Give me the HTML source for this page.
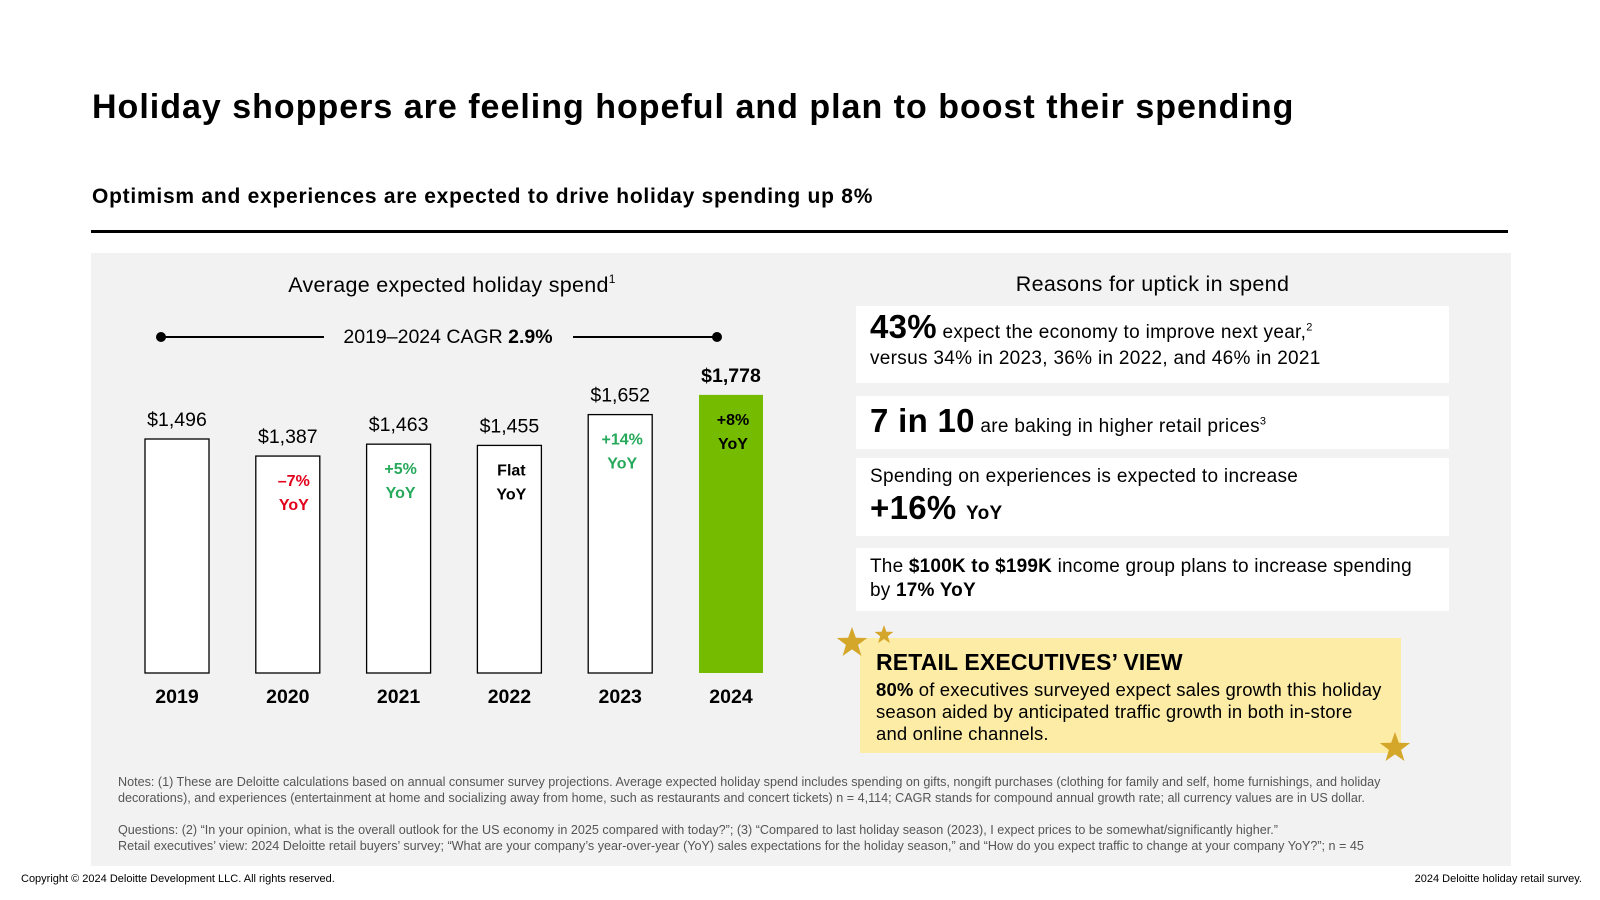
<!DOCTYPE html>
<html><head><meta charset="utf-8">
<style>
*{margin:0;padding:0;box-sizing:border-box}
body{width:1600px;height:900px;background:#fff;font-family:"Liberation Sans",sans-serif;color:#000;position:relative;overflow:hidden}
.abs{position:absolute}
.box{position:absolute;background:#fff;left:856px;width:593px;padding-left:14px;letter-spacing:0.3px}
.notes{font-size:12.6px;color:#555;line-height:16px}
</style></head><body>
<div class="abs" style="left:92px;top:88px;font-size:34px;font-weight:bold;letter-spacing:1px">Holiday shoppers are feeling hopeful and plan to boost their spending</div>
<div class="abs" style="left:92px;top:185px;font-size:21px;font-weight:bold;letter-spacing:0.75px">Optimism and experiences are expected to drive holiday spending up 8%</div>
<div class="abs" style="left:91px;top:230px;width:1417px;height:3px;background:#000"></div>
<div class="abs" style="left:91px;top:253px;width:1420px;height:613px;background:#f2f2f2"></div>

<svg class="abs" style="left:0;top:0" width="840" height="720" id="chart"></svg>

<div class="abs" style="left:856px;top:272px;width:593px;text-align:center;font-size:21.5px;letter-spacing:0.3px">Reasons for uptick in spend</div>
<div class="box" style="top:306px;height:77px;padding-top:8px">
<div style="font-size:19px;line-height:26px"><b style="font-size:33px">43%</b> expect the economy to improve next year,<sup style="font-size:11px">2</sup></div>
<div style="font-size:19px;line-height:26px">versus 34% in 2023, 36% in 2022, and 46% in 2021</div></div>
<div class="box" style="top:396px;height:53px;padding-top:6px;font-size:19px"><b style="font-size:33px">7 in 10</b> are baking in higher retail prices<sup style="font-size:11px">3</sup></div>
<div class="box" style="top:458px;height:78px;padding-top:7px">
<div style="font-size:19px;line-height:24px">Spending on experiences is expected to increase</div>
<div style="font-weight:bold;font-size:33px;line-height:38px">+16% <span style="font-size:19px">YoY</span></div></div>
<div class="box" style="top:548px;height:63px;padding-top:7px;font-size:19px;line-height:24px;padding-right:4px;letter-spacing:0.2px">The <b>$100K to $199K</b> income group plans to increase spending<br>by <b>17% YoY</b></div>

<div class="abs" style="left:860px;top:638px;width:541px;height:115px;background:#fdeca6;padding:10px 0 0 16px;letter-spacing:0.15px">
<div style="font-size:23px;font-weight:bold;line-height:28px">RETAIL EXECUTIVES’ VIEW</div>
<div style="font-size:18.5px;line-height:22px;margin-top:3px;white-space:nowrap"><b>80%</b> of executives surveyed expect sales growth this holiday<br>season aided by anticipated traffic growth in both in-store<br>and online channels.</div></div>
<svg class="abs" style="left:0;top:0" width="1600" height="900">
<g fill="#d4a62a">
<polygon transform="translate(852,643) scale(16)" points="0,-1 0.24,-0.33 0.95,-0.31 0.38,0.12 0.59,0.81 0,0.4 -0.59,0.81 -0.38,0.12 -0.95,-0.31 -0.24,-0.33"/>
<polygon transform="translate(884,635) scale(10)" points="0,-1 0.24,-0.33 0.95,-0.31 0.38,0.12 0.59,0.81 0,0.4 -0.59,0.81 -0.38,0.12 -0.95,-0.31 -0.24,-0.33"/>
<polygon transform="translate(1395,748) scale(16)" points="0,-1 0.24,-0.33 0.95,-0.31 0.38,0.12 0.59,0.81 0,0.4 -0.59,0.81 -0.38,0.12 -0.95,-0.31 -0.24,-0.33"/>
</g></svg>

<div class="abs notes" style="left:118px;top:774px;width:1335px">Notes: (1) These are Deloitte calculations based on annual consumer survey projections. Average expected holiday spend includes spending on gifts, nongift purchases (clothing for family and self, home furnishings, and holiday decorations), and experiences (entertainment at home and socializing away from home, such as restaurants and concert tickets) n = 4,114; CAGR stands for compound annual growth rate; all currency values are in US dollar.</div>
<div class="abs notes" style="left:118px;top:822px;width:1380px">Questions: (2) “In your opinion, what is the overall outlook for the US economy in 2025 compared with today?”; (3) “Compared to last holiday season (2023), I expect prices to be somewhat/significantly higher.”<br>Retail executives’ view: 2024 Deloitte retail buyers’ survey; “What are your company’s year-over-year (YoY) sales expectations for the holiday season,” and “How do you expect traffic to change at your company YoY?”; n = 45</div>
<div class="abs" style="left:21px;top:873px;font-size:11px">Copyright © 2024 Deloitte Development LLC. All rights reserved.</div>
<div class="abs" style="right:18px;top:873px;font-size:11px">2024 Deloitte holiday retail survey.</div>

<script>
const years=["2019","2020","2021","2022","2023","2024"];
const spend=[1496,1387,1463,1455,1652,1778];
const valueLabels=["$1,496","$1,387","$1,463","$1,455","$1,652","$1,778"];
const yoyLabels=["","–7%","+5%","Flat","+14%","+8%"];
const yoyColors=["#000","#e3001b","#26a95a","#000","#26a95a","#000"];
const svg=document.getElementById('chart');
const NS='http://www.w3.org/2000/svg';
const baseY=673, pxPer=234/1496, x0=177, step=110.8, bw=64;
const xPos=i=>x0+i*step;
const yPos=v=>baseY-v*pxPer;
function mk(tag,attrs,txt){const e=document.createElementNS(NS,tag);for(const k in attrs)e.setAttribute(k,attrs[k]);if(txt!==undefined)e.textContent=txt;svg.appendChild(e);return e;}
let t=mk('text',{x:452,y:292,'text-anchor':'middle','font-size':21.5,'letter-spacing':0.3,'font-family':'Liberation Sans, sans-serif'},'');


t.innerHTML='Average expected holiday spend<tspan font-size="12" dy="-9">1</tspan>';
let l1=mk('line',{x1:161,y1:337,x2:324,y2:337,stroke:'#000','stroke-width':2});


let l2=mk('line',{x1:573,y1:337,x2:717,y2:337,stroke:'#000','stroke-width':2});


let d1=mk('circle',{cx:161,cy:337,r:5,fill:'#000'});


let d2=mk('circle',{cx:717,cy:337,r:5,fill:'#000'});


let ct=mk('text',{x:448,y:343,'text-anchor':'middle','font-size':19.5,'font-family':'Liberation Sans, sans-serif'},'');


ct.innerHTML='2019–2024 CAGR <tspan font-weight="bold">2.9%</tspan>';
years.forEach((yr,i)=>{
  const cx=xPos(i), top=yPos(spend[i]), last=i===years.length-1;
  const r=mk('rect',{x:cx-bw/2,y:top,width:bw,height:baseY-top,fill:last?'#75bc00':'#fff',stroke:last?'none':'#000','stroke-width':1.3});
  
  
  const v=mk('text',{x:cx,y:top-13,'text-anchor':'middle','font-size':19.5,'font-weight':last?'bold':'normal','font-family':'Liberation Sans, sans-serif'},valueLabels[i]);
  
  
  const y=mk('text',{x:cx,y:703,'text-anchor':'middle','font-size':19.5,'font-weight':'bold','font-family':'Liberation Sans, sans-serif'},yr);
  
  
  if(yoyLabels[i]){
    const g=mk('text',{x:cx+(i===1?6:2),y:top+30,'text-anchor':'middle','font-size':16,'font-weight':'bold',fill:yoyColors[i],'font-family':'Liberation Sans, sans-serif'},'');
    
    
    g.innerHTML='<tspan x="'+(cx+(i===1?6:2))+'">'+yoyLabels[i]+'</tspan><tspan x="'+(cx+(i===1?6:2))+'" dy="24">YoY</tspan>';
  }
});
</script>
</body></html>
